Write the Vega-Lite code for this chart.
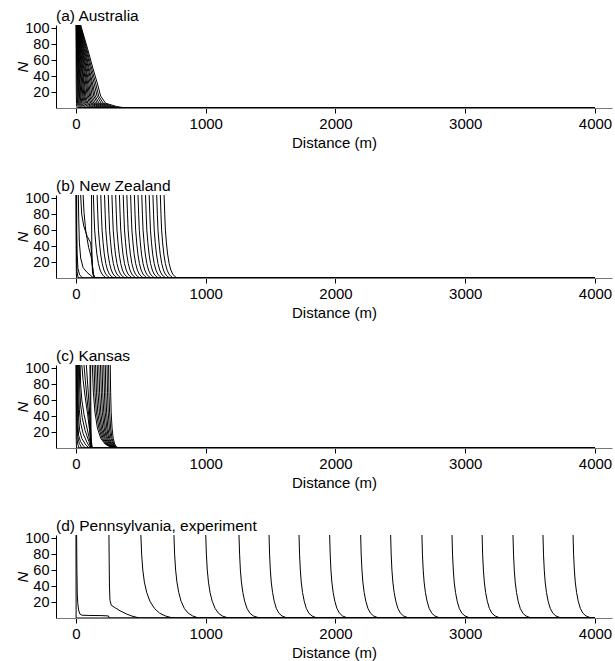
{
"$schema": "https://vega.github.io/schema/vega-lite/v6.json",
"padding": {"left": 15, "right": 2, "top": 8, "bottom": 2},
"config": {
 "font": "Liberation Sans",
 "view": {"stroke": null},
 "axis": {"grid": false, "domainColor": "black", "tickColor": "black", "labelColor": "black", "titleColor": "black", "labelFont": "Liberation Sans", "titleFont": "Liberation Sans", "titleFontWeight": "normal"},
 "title": {"font": "Liberation Sans", "fontSize": 15.5, "fontWeight": "normal", "color": "black", "anchor": "start", "frame": "group", "offset": -4},
 "concat": {"spacing": 28}
},
"datasets": {
"a": [
{"c":1,"x":0.5,"n":104},{"c":1,"x":1,"n":75},{"c":1,"x":1.5,"n":50},{"c":1,"x":2,"n":30},{"c":1,"x":3,"n":15},{"c":1,"x":4,"n":6},{"c":1,"x":6,"n":2},{"c":1,"x":8,"n":0},{"c":1,"x":4000,"n":0},
{"c":2,"x":2,"n":104},{"c":2,"x":4,"n":75},{"c":2,"x":6,"n":50},{"c":2,"x":8,"n":30},{"c":2,"x":10,"n":15},{"c":2,"x":12,"n":6},{"c":2,"x":16,"n":2},{"c":2,"x":19,"n":0},{"c":2,"x":4000,"n":0},
{"c":3,"x":3,"n":104},{"c":3,"x":7,"n":75},{"c":3,"x":10,"n":50},{"c":3,"x":13,"n":30},{"c":3,"x":15,"n":15},{"c":3,"x":18,"n":6},{"c":3,"x":25,"n":2},{"c":3,"x":30,"n":0},{"c":3,"x":4000,"n":0},
{"c":4,"x":4,"n":104},{"c":4,"x":10,"n":75},{"c":4,"x":14,"n":50},{"c":4,"x":18,"n":30},{"c":4,"x":21,"n":15},{"c":4,"x":25,"n":6},{"c":4,"x":34,"n":2},{"c":4,"x":42,"n":0},{"c":4,"x":4000,"n":0},
{"c":5,"x":5,"n":104},{"c":5,"x":12,"n":75},{"c":5,"x":18,"n":50},{"c":5,"x":23,"n":30},{"c":5,"x":27,"n":15},{"c":5,"x":32,"n":6},{"c":5,"x":43,"n":2},{"c":5,"x":53,"n":0},{"c":5,"x":4000,"n":0},
{"c":6,"x":6,"n":104},{"c":6,"x":15,"n":75},{"c":6,"x":22,"n":50},{"c":6,"x":28,"n":30},{"c":6,"x":32,"n":15},{"c":6,"x":39,"n":6},{"c":6,"x":53,"n":2},{"c":6,"x":65,"n":0},{"c":6,"x":4000,"n":0},
{"c":7,"x":7,"n":104},{"c":7,"x":18,"n":75},{"c":7,"x":26,"n":50},{"c":7,"x":33,"n":30},{"c":7,"x":38,"n":15},{"c":7,"x":46,"n":6},{"c":7,"x":62,"n":2},{"c":7,"x":76,"n":0},{"c":7,"x":4000,"n":0},
{"c":8,"x":9,"n":104},{"c":8,"x":21,"n":75},{"c":8,"x":31,"n":50},{"c":8,"x":40,"n":30},{"c":8,"x":46,"n":15},{"c":8,"x":55,"n":6},{"c":8,"x":74,"n":2},{"c":8,"x":91,"n":0},{"c":8,"x":4000,"n":0},
{"c":9,"x":10,"n":104},{"c":9,"x":25,"n":75},{"c":9,"x":36,"n":50},{"c":9,"x":46,"n":30},{"c":9,"x":53,"n":15},{"c":9,"x":64,"n":6},{"c":9,"x":87,"n":2},{"c":9,"x":106,"n":0},{"c":9,"x":4000,"n":0},
{"c":10,"x":12,"n":104},{"c":10,"x":28,"n":75},{"c":10,"x":42,"n":50},{"c":10,"x":53,"n":30},{"c":10,"x":61,"n":15},{"c":10,"x":73,"n":6},{"c":10,"x":99,"n":2},{"c":10,"x":122,"n":0},{"c":10,"x":4000,"n":0},
{"c":11,"x":13,"n":104},{"c":11,"x":32,"n":75},{"c":11,"x":47,"n":50},{"c":11,"x":60,"n":30},{"c":11,"x":68,"n":15},{"c":11,"x":82,"n":6},{"c":11,"x":112,"n":2},{"c":11,"x":137,"n":0},{"c":11,"x":4000,"n":0},
{"c":12,"x":14,"n":104},{"c":12,"x":35,"n":75},{"c":12,"x":52,"n":50},{"c":12,"x":66,"n":30},{"c":12,"x":76,"n":15},{"c":12,"x":91,"n":6},{"c":12,"x":124,"n":2},{"c":12,"x":152,"n":0},{"c":12,"x":4000,"n":0},
{"c":13,"x":16,"n":104},{"c":13,"x":40,"n":75},{"c":13,"x":59,"n":50},{"c":13,"x":75,"n":30},{"c":13,"x":86,"n":15},{"c":13,"x":103,"n":6},{"c":13,"x":140,"n":2},{"c":13,"x":171,"n":0},{"c":13,"x":4000,"n":0},
{"c":14,"x":18,"n":104},{"c":14,"x":44,"n":75},{"c":14,"x":65,"n":50},{"c":14,"x":83,"n":30},{"c":14,"x":95,"n":15},{"c":14,"x":114,"n":6},{"c":14,"x":155,"n":2},{"c":14,"x":190,"n":0},{"c":14,"x":4000,"n":0},
{"c":15,"x":20,"n":104},{"c":15,"x":48,"n":75},{"c":15,"x":72,"n":50},{"c":15,"x":91,"n":30},{"c":15,"x":105,"n":15},{"c":15,"x":125,"n":6},{"c":15,"x":171,"n":2},{"c":15,"x":209,"n":0},{"c":15,"x":4000,"n":0},
{"c":16,"x":22,"n":104},{"c":16,"x":53,"n":75},{"c":16,"x":78,"n":50},{"c":16,"x":100,"n":30},{"c":16,"x":114,"n":15},{"c":16,"x":137,"n":6},{"c":16,"x":186,"n":2},{"c":16,"x":228,"n":0},{"c":16,"x":4000,"n":0},
{"c":17,"x":24,"n":104},{"c":17,"x":58,"n":75},{"c":17,"x":86,"n":50},{"c":17,"x":110,"n":30},{"c":17,"x":125,"n":15},{"c":17,"x":150,"n":6},{"c":17,"x":205,"n":2},{"c":17,"x":251,"n":0},{"c":17,"x":4000,"n":0},
{"c":18,"x":26,"n":104},{"c":18,"x":63,"n":75},{"c":18,"x":94,"n":50},{"c":18,"x":120,"n":30},{"c":18,"x":137,"n":15},{"c":18,"x":164,"n":6},{"c":18,"x":223,"n":2},{"c":18,"x":274,"n":0},{"c":18,"x":4000,"n":0},
{"c":19,"x":28,"n":104},{"c":19,"x":69,"n":75},{"c":19,"x":101,"n":50},{"c":19,"x":129,"n":30},{"c":19,"x":148,"n":15},{"c":19,"x":178,"n":6},{"c":19,"x":242,"n":2},{"c":19,"x":296,"n":0},{"c":19,"x":4000,"n":0},
{"c":20,"x":31,"n":104},{"c":20,"x":75,"n":75},{"c":20,"x":111,"n":50},{"c":20,"x":141,"n":30},{"c":20,"x":162,"n":15},{"c":20,"x":194,"n":6},{"c":20,"x":264,"n":2},{"c":20,"x":323,"n":0},{"c":20,"x":4000,"n":0},
{"c":21,"x":33,"n":104},{"c":21,"x":81,"n":75},{"c":21,"x":120,"n":50},{"c":21,"x":153,"n":30},{"c":21,"x":175,"n":15},{"c":21,"x":210,"n":6},{"c":21,"x":285,"n":2},{"c":21,"x":350,"n":0},{"c":21,"x":4000,"n":0},
{"c":22,"x":36,"n":104},{"c":22,"x":88,"n":75},{"c":22,"x":130,"n":50},{"c":22,"x":166,"n":30},{"c":22,"x":190,"n":15},{"c":22,"x":228,"n":6},{"c":22,"x":310,"n":2},{"c":22,"x":380,"n":0},{"c":22,"x":4000,"n":0}
],
"b": [
{"c":1,"x":0,"n":104},{"c":1,"x":1,"n":60},{"c":1,"x":2,"n":20},{"c":1,"x":3,"n":5},{"c":1,"x":5,"n":0},{"c":1,"x":4000,"n":0},
{"c":2,"x":2,"n":104},{"c":2,"x":3,"n":60},{"c":2,"x":5,"n":25},{"c":2,"x":8,"n":8},{"c":2,"x":14,"n":2},{"c":2,"x":22,"n":0},{"c":2,"x":4000,"n":0},
{"c":3,"x":5,"n":104},{"c":3,"x":6,"n":60},{"c":3,"x":9,"n":30},{"c":3,"x":15,"n":12},{"c":3,"x":28,"n":4},{"c":3,"x":45,"n":1},{"c":3,"x":60,"n":0},{"c":3,"x":4000,"n":0},
{"c":4,"x":18,"n":104},{"c":4,"x":21,"n":75},{"c":4,"x":26,"n":45},{"c":4,"x":36,"n":25},{"c":4,"x":55,"n":13},{"c":4,"x":85,"n":7},{"c":4,"x":115,"n":3},{"c":4,"x":135,"n":0},{"c":4,"x":4000,"n":0},
{"c":5,"x":36,"n":104},{"c":5,"x":44,"n":80},{"c":5,"x":60,"n":65},{"c":5,"x":87,"n":52},{"c":5,"x":113,"n":44},{"c":5,"x":121,"n":30},{"c":5,"x":127,"n":15},{"c":5,"x":134,"n":5},{"c":5,"x":145,"n":0},{"c":5,"x":4000,"n":0},
{"c":6,"x":55,"n":104},{"c":6,"x":62,"n":82},{"c":6,"x":76,"n":58},{"c":6,"x":98,"n":38},{"c":6,"x":118,"n":26},{"c":6,"x":128,"n":14},{"c":6,"x":135,"n":4},{"c":6,"x":150,"n":0},{"c":6,"x":4000,"n":0},
{"c":7,"x":120,"n":104},{"c":7,"x":121,"n":60},{"c":7,"x":123,"n":25},{"c":7,"x":127,"n":8},{"c":7,"x":135,"n":2},{"c":7,"x":142,"n":0},{"c":7,"x":4000,"n":0},
{"c":10,"x":134,"n":104},{"c":10,"x":139,"n":80},{"c":10,"x":144,"n":60},{"c":10,"x":152,"n":44},{"c":10,"x":161,"n":30},{"c":10,"x":173,"n":18},{"c":10,"x":186,"n":10},{"c":10,"x":200,"n":5},{"c":10,"x":216,"n":2},{"c":10,"x":234,"n":0},{"c":10,"x":4000,"n":0},
{"c":11,"x":163,"n":104},{"c":11,"x":168,"n":80},{"c":11,"x":173,"n":60},{"c":11,"x":181,"n":44},{"c":11,"x":190,"n":30},{"c":11,"x":202,"n":18},{"c":11,"x":215,"n":10},{"c":11,"x":229,"n":5},{"c":11,"x":245,"n":2},{"c":11,"x":263,"n":0},{"c":11,"x":4000,"n":0},
{"c":12,"x":191,"n":104},{"c":12,"x":196,"n":80},{"c":12,"x":201,"n":60},{"c":12,"x":209,"n":44},{"c":12,"x":218,"n":30},{"c":12,"x":230,"n":18},{"c":12,"x":243,"n":10},{"c":12,"x":257,"n":5},{"c":12,"x":273,"n":2},{"c":12,"x":291,"n":0},{"c":12,"x":4000,"n":0},
{"c":13,"x":220,"n":104},{"c":13,"x":225,"n":80},{"c":13,"x":230,"n":60},{"c":13,"x":238,"n":44},{"c":13,"x":247,"n":30},{"c":13,"x":259,"n":18},{"c":13,"x":272,"n":10},{"c":13,"x":286,"n":5},{"c":13,"x":302,"n":2},{"c":13,"x":320,"n":0},{"c":13,"x":4000,"n":0},
{"c":14,"x":249,"n":104},{"c":14,"x":254,"n":80},{"c":14,"x":259,"n":60},{"c":14,"x":267,"n":44},{"c":14,"x":276,"n":30},{"c":14,"x":288,"n":18},{"c":14,"x":301,"n":10},{"c":14,"x":315,"n":5},{"c":14,"x":331,"n":2},{"c":14,"x":349,"n":0},{"c":14,"x":4000,"n":0},
{"c":15,"x":277,"n":104},{"c":15,"x":282,"n":80},{"c":15,"x":287,"n":60},{"c":15,"x":295,"n":44},{"c":15,"x":304,"n":30},{"c":15,"x":316,"n":18},{"c":15,"x":329,"n":10},{"c":15,"x":343,"n":5},{"c":15,"x":359,"n":2},{"c":15,"x":377,"n":0},{"c":15,"x":4000,"n":0},
{"c":16,"x":306,"n":104},{"c":16,"x":311,"n":80},{"c":16,"x":316,"n":60},{"c":16,"x":324,"n":44},{"c":16,"x":333,"n":30},{"c":16,"x":345,"n":18},{"c":16,"x":358,"n":10},{"c":16,"x":372,"n":5},{"c":16,"x":388,"n":2},{"c":16,"x":406,"n":0},{"c":16,"x":4000,"n":0},
{"c":17,"x":335,"n":104},{"c":17,"x":340,"n":80},{"c":17,"x":345,"n":60},{"c":17,"x":353,"n":44},{"c":17,"x":362,"n":30},{"c":17,"x":374,"n":18},{"c":17,"x":387,"n":10},{"c":17,"x":401,"n":5},{"c":17,"x":417,"n":2},{"c":17,"x":435,"n":0},{"c":17,"x":4000,"n":0},
{"c":18,"x":364,"n":104},{"c":18,"x":369,"n":80},{"c":18,"x":374,"n":60},{"c":18,"x":382,"n":44},{"c":18,"x":391,"n":30},{"c":18,"x":403,"n":18},{"c":18,"x":416,"n":10},{"c":18,"x":430,"n":5},{"c":18,"x":446,"n":2},{"c":18,"x":464,"n":0},{"c":18,"x":4000,"n":0},
{"c":19,"x":392,"n":104},{"c":19,"x":397,"n":80},{"c":19,"x":402,"n":60},{"c":19,"x":410,"n":44},{"c":19,"x":419,"n":30},{"c":19,"x":431,"n":18},{"c":19,"x":444,"n":10},{"c":19,"x":458,"n":5},{"c":19,"x":474,"n":2},{"c":19,"x":492,"n":0},{"c":19,"x":4000,"n":0},
{"c":20,"x":421,"n":104},{"c":20,"x":426,"n":80},{"c":20,"x":431,"n":60},{"c":20,"x":439,"n":44},{"c":20,"x":448,"n":30},{"c":20,"x":460,"n":18},{"c":20,"x":473,"n":10},{"c":20,"x":487,"n":5},{"c":20,"x":503,"n":2},{"c":20,"x":521,"n":0},{"c":20,"x":4000,"n":0},
{"c":21,"x":450,"n":104},{"c":21,"x":455,"n":80},{"c":21,"x":460,"n":60},{"c":21,"x":468,"n":44},{"c":21,"x":477,"n":30},{"c":21,"x":489,"n":18},{"c":21,"x":502,"n":10},{"c":21,"x":516,"n":5},{"c":21,"x":532,"n":2},{"c":21,"x":550,"n":0},{"c":21,"x":4000,"n":0},
{"c":22,"x":478,"n":104},{"c":22,"x":483,"n":80},{"c":22,"x":488,"n":60},{"c":22,"x":496,"n":44},{"c":22,"x":505,"n":30},{"c":22,"x":517,"n":18},{"c":22,"x":530,"n":10},{"c":22,"x":544,"n":5},{"c":22,"x":560,"n":2},{"c":22,"x":578,"n":0},{"c":22,"x":4000,"n":0},
{"c":23,"x":507,"n":104},{"c":23,"x":512,"n":80},{"c":23,"x":517,"n":60},{"c":23,"x":525,"n":44},{"c":23,"x":534,"n":30},{"c":23,"x":546,"n":18},{"c":23,"x":559,"n":10},{"c":23,"x":573,"n":5},{"c":23,"x":589,"n":2},{"c":23,"x":607,"n":0},{"c":23,"x":4000,"n":0},
{"c":24,"x":536,"n":104},{"c":24,"x":541,"n":80},{"c":24,"x":546,"n":60},{"c":24,"x":554,"n":44},{"c":24,"x":563,"n":30},{"c":24,"x":575,"n":18},{"c":24,"x":588,"n":10},{"c":24,"x":602,"n":5},{"c":24,"x":618,"n":2},{"c":24,"x":636,"n":0},{"c":24,"x":4000,"n":0},
{"c":25,"x":564,"n":104},{"c":25,"x":569,"n":80},{"c":25,"x":574,"n":60},{"c":25,"x":582,"n":44},{"c":25,"x":591,"n":30},{"c":25,"x":603,"n":18},{"c":25,"x":616,"n":10},{"c":25,"x":630,"n":5},{"c":25,"x":646,"n":2},{"c":25,"x":664,"n":0},{"c":25,"x":4000,"n":0},
{"c":26,"x":593,"n":104},{"c":26,"x":598,"n":80},{"c":26,"x":603,"n":60},{"c":26,"x":611,"n":44},{"c":26,"x":620,"n":30},{"c":26,"x":632,"n":18},{"c":26,"x":645,"n":10},{"c":26,"x":659,"n":5},{"c":26,"x":675,"n":2},{"c":26,"x":693,"n":0},{"c":26,"x":4000,"n":0},
{"c":27,"x":622,"n":104},{"c":27,"x":627,"n":80},{"c":27,"x":632,"n":60},{"c":27,"x":640,"n":44},{"c":27,"x":649,"n":30},{"c":27,"x":661,"n":18},{"c":27,"x":674,"n":10},{"c":27,"x":688,"n":5},{"c":27,"x":704,"n":2},{"c":27,"x":722,"n":0},{"c":27,"x":4000,"n":0},
{"c":28,"x":650,"n":104},{"c":28,"x":655,"n":80},{"c":28,"x":660,"n":60},{"c":28,"x":668,"n":44},{"c":28,"x":677,"n":30},{"c":28,"x":689,"n":18},{"c":28,"x":702,"n":10},{"c":28,"x":716,"n":5},{"c":28,"x":732,"n":2},{"c":28,"x":750,"n":0},{"c":28,"x":4000,"n":0},
{"c":29,"x":679,"n":104},{"c":29,"x":684,"n":80},{"c":29,"x":689,"n":60},{"c":29,"x":697,"n":44},{"c":29,"x":706,"n":30},{"c":29,"x":718,"n":18},{"c":29,"x":731,"n":10},{"c":29,"x":745,"n":5},{"c":29,"x":761,"n":2},{"c":29,"x":779,"n":0},{"c":29,"x":4000,"n":0}
],
"c": [
{"c":1,"x":0,"n":104},{"c":1,"x":1,"n":50},{"c":1,"x":2,"n":10},{"c":1,"x":4,"n":0},{"c":1,"x":4000,"n":0},
{"c":2,"x":3,"n":104},{"c":2,"x":4,"n":60},{"c":2,"x":6,"n":25},{"c":2,"x":9,"n":10},{"c":2,"x":15,"n":4},{"c":2,"x":25,"n":0},{"c":2,"x":4000,"n":0},
{"c":3,"x":6,"n":104},{"c":3,"x":8,"n":60},{"c":3,"x":10,"n":30},{"c":3,"x":14,"n":14},{"c":3,"x":25,"n":6},{"c":3,"x":45,"n":0},{"c":3,"x":4000,"n":0},
{"c":4,"x":10,"n":104},{"c":4,"x":12,"n":60},{"c":4,"x":15,"n":30},{"c":4,"x":20,"n":16},{"c":4,"x":35,"n":8},{"c":4,"x":60,"n":2},{"c":4,"x":75,"n":0},{"c":4,"x":4000,"n":0},
{"c":5,"x":14,"n":104},{"c":5,"x":16,"n":65},{"c":5,"x":20,"n":38},{"c":5,"x":28,"n":22},{"c":5,"x":45,"n":12},{"c":5,"x":75,"n":4},{"c":5,"x":100,"n":0},{"c":5,"x":4000,"n":0},
{"c":6,"x":20,"n":104},{"c":6,"x":22,"n":70},{"c":6,"x":26,"n":48},{"c":6,"x":35,"n":32},{"c":6,"x":55,"n":18},{"c":6,"x":85,"n":7},{"c":6,"x":110,"n":0},{"c":6,"x":4000,"n":0},
{"c":7,"x":26,"n":104},{"c":7,"x":29,"n":75},{"c":7,"x":35,"n":55},{"c":7,"x":48,"n":38},{"c":7,"x":70,"n":22},{"c":7,"x":100,"n":8},{"c":7,"x":115,"n":0},{"c":7,"x":4000,"n":0},
{"c":8,"x":32,"n":104},{"c":8,"x":36,"n":80},{"c":8,"x":45,"n":60},{"c":8,"x":62,"n":42},{"c":8,"x":85,"n":25},{"c":8,"x":108,"n":8},{"c":8,"x":118,"n":0},{"c":8,"x":4000,"n":0},
{"c":9,"x":45,"n":104},{"c":9,"x":55,"n":85},{"c":9,"x":70,"n":65},{"c":9,"x":90,"n":42},{"c":9,"x":105,"n":22},{"c":9,"x":113,"n":8},{"c":9,"x":120,"n":0},{"c":9,"x":4000,"n":0},
{"c":10,"x":62,"n":104},{"c":10,"x":72,"n":85},{"c":10,"x":85,"n":62},{"c":10,"x":100,"n":38},{"c":10,"x":110,"n":18},{"c":10,"x":116,"n":5},{"c":10,"x":122,"n":0},{"c":10,"x":4000,"n":0},
{"c":11,"x":80,"n":104},{"c":11,"x":90,"n":80},{"c":11,"x":102,"n":52},{"c":11,"x":110,"n":28},{"c":11,"x":115,"n":10},{"c":11,"x":124,"n":0},{"c":11,"x":4000,"n":0},
{"c":12,"x":108,"n":104},{"c":12,"x":109,"n":60},{"c":12,"x":110,"n":25},{"c":12,"x":113,"n":8},{"c":12,"x":120,"n":2},{"c":12,"x":126,"n":0},{"c":12,"x":4000,"n":0},
{"c":13,"x":113,"n":104},{"c":13,"x":114,"n":60},{"c":13,"x":116,"n":25},{"c":13,"x":119,"n":8},{"c":13,"x":125,"n":0},{"c":13,"x":4000,"n":0},
{"c":20,"x":126,"n":104},{"c":20,"x":134,"n":70},{"c":20,"x":146,"n":45},{"c":20,"x":165,"n":25},{"c":20,"x":191,"n":12},{"c":20,"x":224,"n":5},{"c":20,"x":263,"n":1.5},{"c":20,"x":308,"n":0},{"c":20,"x":4000,"n":0},
{"c":21,"x":139,"n":104},{"c":21,"x":146,"n":70},{"c":21,"x":157,"n":45},{"c":21,"x":176,"n":25},{"c":21,"x":200,"n":12},{"c":21,"x":231,"n":5},{"c":21,"x":267,"n":1.5},{"c":21,"x":310,"n":0},{"c":21,"x":4000,"n":0},
{"c":22,"x":151,"n":104},{"c":22,"x":158,"n":70},{"c":22,"x":168,"n":45},{"c":22,"x":186,"n":25},{"c":22,"x":209,"n":12},{"c":22,"x":237,"n":5},{"c":22,"x":272,"n":1.5},{"c":22,"x":312,"n":0},{"c":22,"x":4000,"n":0},
{"c":23,"x":164,"n":104},{"c":23,"x":170,"n":70},{"c":23,"x":180,"n":45},{"c":23,"x":196,"n":25},{"c":23,"x":218,"n":12},{"c":23,"x":244,"n":5},{"c":23,"x":276,"n":1.5},{"c":23,"x":314,"n":0},{"c":23,"x":4000,"n":0},
{"c":24,"x":176,"n":104},{"c":24,"x":182,"n":70},{"c":24,"x":191,"n":45},{"c":24,"x":206,"n":25},{"c":24,"x":226,"n":12},{"c":24,"x":250,"n":5},{"c":24,"x":280,"n":1.5},{"c":24,"x":315,"n":0},{"c":24,"x":4000,"n":0},
{"c":25,"x":189,"n":104},{"c":25,"x":195,"n":70},{"c":25,"x":203,"n":45},{"c":25,"x":217,"n":25},{"c":25,"x":235,"n":12},{"c":25,"x":258,"n":5},{"c":25,"x":286,"n":1.5},{"c":25,"x":318,"n":0},{"c":25,"x":4000,"n":0},
{"c":26,"x":201,"n":104},{"c":26,"x":206,"n":70},{"c":26,"x":214,"n":45},{"c":26,"x":226,"n":25},{"c":26,"x":243,"n":12},{"c":26,"x":264,"n":5},{"c":26,"x":289,"n":1.5},{"c":26,"x":319,"n":0},{"c":26,"x":4000,"n":0},
{"c":27,"x":214,"n":104},{"c":27,"x":219,"n":70},{"c":27,"x":225,"n":45},{"c":27,"x":237,"n":25},{"c":27,"x":252,"n":12},{"c":27,"x":271,"n":5},{"c":27,"x":294,"n":1.5},{"c":27,"x":320,"n":0},{"c":27,"x":4000,"n":0},
{"c":28,"x":226,"n":104},{"c":28,"x":230,"n":70},{"c":28,"x":236,"n":45},{"c":28,"x":246,"n":25},{"c":28,"x":260,"n":12},{"c":28,"x":277,"n":5},{"c":28,"x":297,"n":1.5},{"c":28,"x":321,"n":0},{"c":28,"x":4000,"n":0},
{"c":29,"x":239,"n":104},{"c":29,"x":243,"n":70},{"c":29,"x":248,"n":45},{"c":29,"x":257,"n":25},{"c":29,"x":270,"n":12},{"c":29,"x":285,"n":5},{"c":29,"x":303,"n":1.5},{"c":29,"x":324,"n":0},{"c":29,"x":4000,"n":0},
{"c":30,"x":251,"n":104},{"c":30,"x":254,"n":70},{"c":30,"x":259,"n":45},{"c":30,"x":267,"n":25},{"c":30,"x":278,"n":12},{"c":30,"x":291,"n":5},{"c":30,"x":307,"n":1.5},{"c":30,"x":325,"n":0},{"c":30,"x":4000,"n":0},
{"c":31,"x":264,"n":104},{"c":31,"x":267,"n":70},{"c":31,"x":271,"n":45},{"c":31,"x":278,"n":25},{"c":31,"x":287,"n":12},{"c":31,"x":298,"n":5},{"c":31,"x":311,"n":1.5},{"c":31,"x":327,"n":0},{"c":31,"x":4000,"n":0}
],
"d": [
{"c":0,"x":0,"n":104},{"c":0,"x":1,"n":0},{"c":0,"x":4000,"n":0},
{"c":1,"x":5,"n":104},{"c":1,"x":7,"n":60},{"c":1,"x":10,"n":30},{"c":1,"x":14,"n":18},{"c":1,"x":20,"n":10},{"c":1,"x":30,"n":5},{"c":1,"x":45,"n":3.5},{"c":1,"x":100,"n":3.2},{"c":1,"x":200,"n":3},{"c":1,"x":250,"n":2.6},{"c":1,"x":256,"n":0},{"c":1,"x":4000,"n":0},
{"c":2,"x":254,"n":104},{"c":2,"x":256,"n":70},{"c":2,"x":258,"n":40},{"c":2,"x":262,"n":22},{"c":2,"x":272,"n":16},{"c":2,"x":300,"n":13},{"c":2,"x":340,"n":9},{"c":2,"x":390,"n":5},{"c":2,"x":430,"n":2.5},{"c":2,"x":470,"n":0.8},{"c":2,"x":490,"n":0},{"c":2,"x":4000,"n":0},
{"c":3,"x":500,"n":104},{"c":3,"x":506,"n":80},{"c":3,"x":515,"n":60},{"c":3,"x":527,"n":45},{"c":3,"x":545,"n":32},{"c":3,"x":570,"n":21},{"c":3,"x":605,"n":12},{"c":3,"x":645,"n":6},{"c":3,"x":690,"n":2.5},{"c":3,"x":735,"n":0.5},{"c":3,"x":760,"n":0},{"c":3,"x":4000,"n":0},
{"c":4,"x":755,"n":104},{"c":4,"x":760,"n":80},{"c":4,"x":768,"n":60},{"c":4,"x":778,"n":45},{"c":4,"x":792,"n":32},{"c":4,"x":810,"n":21},{"c":4,"x":835,"n":12},{"c":4,"x":865,"n":6},{"c":4,"x":900,"n":2.5},{"c":4,"x":945,"n":0},{"c":4,"x":4000,"n":0},
{"c":5,"x":1000,"n":104},{"c":5,"x":1005,"n":80},{"c":5,"x":1012,"n":60},{"c":5,"x":1021,"n":45},{"c":5,"x":1033,"n":32},{"c":5,"x":1050,"n":21},{"c":5,"x":1072,"n":12},{"c":5,"x":1098,"n":6},{"c":5,"x":1128,"n":2.5},{"c":5,"x":1175,"n":0},{"c":5,"x":4000,"n":0},
{"c":6,"x":1256,"n":104},{"c":6,"x":1261,"n":80},{"c":6,"x":1267,"n":60},{"c":6,"x":1275,"n":45},{"c":6,"x":1286,"n":32},{"c":6,"x":1300,"n":21},{"c":6,"x":1318,"n":12},{"c":6,"x":1340,"n":6},{"c":6,"x":1368,"n":2.5},{"c":6,"x":1416,"n":0},{"c":6,"x":4000,"n":0},
{"c":7,"x":1488,"n":104},{"c":7,"x":1492,"n":80},{"c":7,"x":1498,"n":60},{"c":7,"x":1505,"n":45},{"c":7,"x":1515,"n":32},{"c":7,"x":1528,"n":21},{"c":7,"x":1544,"n":12},{"c":7,"x":1564,"n":6},{"c":7,"x":1588,"n":2.5},{"c":7,"x":1628,"n":0},{"c":7,"x":4000,"n":0},
{"c":8,"x":1719,"n":104},{"c":8,"x":1723,"n":80},{"c":8,"x":1729,"n":60},{"c":8,"x":1736,"n":45},{"c":8,"x":1746,"n":32},{"c":8,"x":1759,"n":21},{"c":8,"x":1775,"n":12},{"c":8,"x":1795,"n":6},{"c":8,"x":1819,"n":2.5},{"c":8,"x":1859,"n":0},{"c":8,"x":4000,"n":0},
{"c":9,"x":1955,"n":104},{"c":9,"x":1959,"n":80},{"c":9,"x":1965,"n":60},{"c":9,"x":1972,"n":45},{"c":9,"x":1982,"n":32},{"c":9,"x":1995,"n":21},{"c":9,"x":2011,"n":12},{"c":9,"x":2031,"n":6},{"c":9,"x":2055,"n":2.5},{"c":9,"x":2095,"n":0},{"c":9,"x":4000,"n":0},
{"c":10,"x":2194,"n":104},{"c":10,"x":2198,"n":80},{"c":10,"x":2204,"n":60},{"c":10,"x":2211,"n":45},{"c":10,"x":2221,"n":32},{"c":10,"x":2234,"n":21},{"c":10,"x":2250,"n":12},{"c":10,"x":2270,"n":6},{"c":10,"x":2294,"n":2.5},{"c":10,"x":2334,"n":0},{"c":10,"x":4000,"n":0},
{"c":11,"x":2425,"n":104},{"c":11,"x":2429,"n":80},{"c":11,"x":2435,"n":60},{"c":11,"x":2442,"n":45},{"c":11,"x":2452,"n":32},{"c":11,"x":2465,"n":21},{"c":11,"x":2481,"n":12},{"c":11,"x":2501,"n":6},{"c":11,"x":2525,"n":2.5},{"c":11,"x":2565,"n":0},{"c":11,"x":4000,"n":0},
{"c":12,"x":2666,"n":104},{"c":12,"x":2670,"n":80},{"c":12,"x":2676,"n":60},{"c":12,"x":2683,"n":45},{"c":12,"x":2693,"n":32},{"c":12,"x":2706,"n":21},{"c":12,"x":2722,"n":12},{"c":12,"x":2742,"n":6},{"c":12,"x":2766,"n":2.5},{"c":12,"x":2806,"n":0},{"c":12,"x":4000,"n":0},
{"c":13,"x":2898,"n":104},{"c":13,"x":2902,"n":80},{"c":13,"x":2908,"n":60},{"c":13,"x":2915,"n":45},{"c":13,"x":2925,"n":32},{"c":13,"x":2938,"n":21},{"c":13,"x":2954,"n":12},{"c":13,"x":2974,"n":6},{"c":13,"x":2998,"n":2.5},{"c":13,"x":3038,"n":0},{"c":13,"x":4000,"n":0},
{"c":14,"x":3130,"n":104},{"c":14,"x":3134,"n":80},{"c":14,"x":3140,"n":60},{"c":14,"x":3147,"n":45},{"c":14,"x":3157,"n":32},{"c":14,"x":3170,"n":21},{"c":14,"x":3186,"n":12},{"c":14,"x":3206,"n":6},{"c":14,"x":3230,"n":2.5},{"c":14,"x":3270,"n":0},{"c":14,"x":4000,"n":0},
{"c":15,"x":3368,"n":104},{"c":15,"x":3372,"n":80},{"c":15,"x":3378,"n":60},{"c":15,"x":3385,"n":45},{"c":15,"x":3395,"n":32},{"c":15,"x":3408,"n":21},{"c":15,"x":3424,"n":12},{"c":15,"x":3444,"n":6},{"c":15,"x":3468,"n":2.5},{"c":15,"x":3508,"n":0},{"c":15,"x":4000,"n":0},
{"c":16,"x":3599,"n":104},{"c":16,"x":3603,"n":80},{"c":16,"x":3609,"n":60},{"c":16,"x":3616,"n":45},{"c":16,"x":3626,"n":32},{"c":16,"x":3639,"n":21},{"c":16,"x":3655,"n":12},{"c":16,"x":3675,"n":6},{"c":16,"x":3699,"n":2.5},{"c":16,"x":3739,"n":0},{"c":16,"x":4000,"n":0},
{"c":17,"x":3831,"n":104},{"c":17,"x":3835,"n":80},{"c":17,"x":3841,"n":60},{"c":17,"x":3848,"n":45},{"c":17,"x":3858,"n":32},{"c":17,"x":3871,"n":21},{"c":17,"x":3887,"n":12},{"c":17,"x":3907,"n":6},{"c":17,"x":3931,"n":2.5},{"c":17,"x":3971,"n":0},{"c":17,"x":4000,"n":0}
]
},
"vconcat": [
{
 "data": {"name": "a"},
 "title": {"text": "(a) Australia"},
 "width": 556, "height": 83,
 "mark": {"type": "line", "color": "black", "strokeWidth": 1, "clip": true},
 "encoding": {
  "x": {"field": "x", "type": "quantitative", "scale": {"domain": [-154, 4131], "nice": false, "zero": false}, "axis": {"values": [0,1000,2000,3000,4000], "format": "d", "title": "Distance (m)", "labelFontSize": 15, "titleFontSize": 15, "tickSize": 5, "labelPadding": 3, "titlePadding": 4, "domainColor": "#777", "labelFlush": false}},
  "y": {"field": "n", "type": "quantitative", "scale": {"domain": [0, 104], "nice": false}, "axis": {"values": [20,40,60,80,100], "title": "N", "titleFontStyle": "italic", "labelFontSize": 14.5, "titleFontSize": 15, "tickSize": 5, "labelPadding": 2, "titlePadding": -6}},
  "detail": {"field": "c", "type": "nominal"}
 }
},
{
 "data": {"name": "b"},
 "title": {"text": "(b) New Zealand"},
 "width": 556, "height": 83,
 "mark": {"type": "line", "color": "black", "strokeWidth": 1, "clip": true},
 "encoding": {
  "x": {"field": "x", "type": "quantitative", "scale": {"domain": [-154, 4131], "nice": false, "zero": false}, "axis": {"values": [0,1000,2000,3000,4000], "format": "d", "title": "Distance (m)", "labelFontSize": 15, "titleFontSize": 15, "tickSize": 5, "labelPadding": 3, "titlePadding": 4, "domainColor": "#777", "labelFlush": false}},
  "y": {"field": "n", "type": "quantitative", "scale": {"domain": [0, 104], "nice": false}, "axis": {"values": [20,40,60,80,100], "title": "N", "titleFontStyle": "italic", "labelFontSize": 14.5, "titleFontSize": 15, "tickSize": 5, "labelPadding": 2, "titlePadding": -6}},
  "detail": {"field": "c", "type": "nominal"}
 }
},
{
 "data": {"name": "c"},
 "title": {"text": "(c) Kansas"},
 "width": 556, "height": 83,
 "mark": {"type": "line", "color": "black", "strokeWidth": 1, "clip": true},
 "encoding": {
  "x": {"field": "x", "type": "quantitative", "scale": {"domain": [-154, 4131], "nice": false, "zero": false}, "axis": {"values": [0,1000,2000,3000,4000], "format": "d", "title": "Distance (m)", "labelFontSize": 15, "titleFontSize": 15, "tickSize": 5, "labelPadding": 3, "titlePadding": 4, "domainColor": "#777", "labelFlush": false}},
  "y": {"field": "n", "type": "quantitative", "scale": {"domain": [0, 104], "nice": false}, "axis": {"values": [20,40,60,80,100], "title": "N", "titleFontStyle": "italic", "labelFontSize": 14.5, "titleFontSize": 15, "tickSize": 5, "labelPadding": 2, "titlePadding": -6}},
  "detail": {"field": "c", "type": "nominal"}
 }
},
{
 "data": {"name": "d"},
 "title": {"text": "(d) Pennsylvania, experiment"},
 "width": 556, "height": 83,
 "mark": {"type": "line", "color": "black", "strokeWidth": 1, "clip": true},
 "encoding": {
  "x": {"field": "x", "type": "quantitative", "scale": {"domain": [-154, 4131], "nice": false, "zero": false}, "axis": {"values": [0,1000,2000,3000,4000], "format": "d", "title": "Distance (m)", "labelFontSize": 15, "titleFontSize": 15, "tickSize": 5, "labelPadding": 3, "titlePadding": 4, "domainColor": "#777", "labelFlush": false}},
  "y": {"field": "n", "type": "quantitative", "scale": {"domain": [0, 104], "nice": false}, "axis": {"values": [20,40,60,80,100], "title": "N", "titleFontStyle": "italic", "labelFontSize": 14.5, "titleFontSize": 15, "tickSize": 5, "labelPadding": 2, "titlePadding": -6}},
  "detail": {"field": "c", "type": "nominal"}
 }
}
]
}
